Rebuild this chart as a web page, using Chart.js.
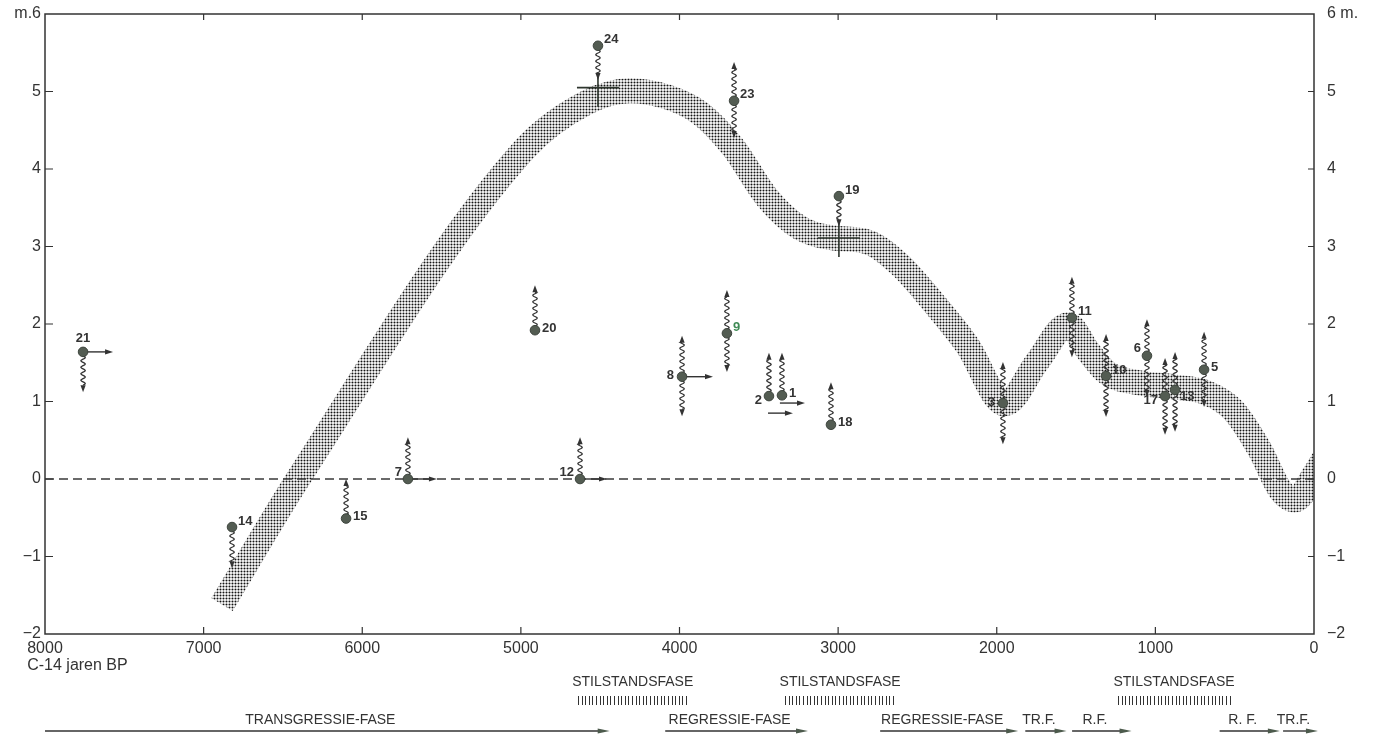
<!DOCTYPE html>
<html>
<head>
<meta charset="utf-8">
<title>Zeespiegel C-14</title>
<script src="https://cdn.jsdelivr.net/npm/chart.js@4.4.1/dist/chart.umd.min.js"></script>
<style>
  html, body { margin: 0; padding: 0; background: #fff; }
  canvas { display: block; }
</style>
</head>
<body>
<canvas id="sealevel-chart" width="1374" height="739"></canvas>
<script>
// --- data (ages in C-14 years BP, levels in metres) ---
const sampleIds   = ['21', '14', '15', '7', '12', '20', '24', '23', '19', '9', '8', '2', '1', '18', '3', '11', '10', '6', '17', '13', '5'];
const sampleAge   = [7760, 6821, 6102, 5712, 4627, 4911, 4514, 3656, 2995, 3701, 3984, 3436, 3354, 3045, 1961, 1526, 1311, 1053, 939, 876, 693];
const sampleLevel = [1.64, -0.62, -0.51, 0.0, 0.0, 1.92, 5.59, 4.88, 3.65, 1.88, 1.32, 1.07, 1.08, 0.70, 0.98, 2.08, 1.33, 1.59, 1.07, 1.15, 1.41];
const rangeTop    = [null, null, 0.0, 0.54, 0.54, 2.50, null, 5.38, null, 2.44, 1.85, 1.63, 1.63, 1.25, 1.51, 2.61, 1.87, 2.06, 1.56, 1.64, 1.90];
const rangeBottom = [1.12, -1.15, null, null, null, null, 5.15, 4.40, 3.26, 1.38, 0.81, null, null, null, 0.45, 1.57, 0.80, 1.06, 0.57, 0.61, 0.93];

const crossAge   = [4514, 2995];
const crossLevel = [5.05, 3.11];

const shiftFrom  = [7760, 5712, 4627, 3984, 3367, 3442];
const shiftTo    = [7571, 5529, 4457, 3789, 3209, 3285];
const shiftLevel = [1.64, 0.0, 0.0, 1.32, 0.98, 0.85];

const bandAge   = [6884, 6405, 4980, 4583, 4312, 4078, 3870, 3662, 3448, 3240, 3032, 2817, 2609, 2401, 2187, 1948, 1746, 1550, 1424, 1304, 1096, 888, 674, 510, 340, 213, 119, 0, -60];
const bandLevel = [-1.62, 0.0, 4.25, 4.86, 5.01, 4.93, 4.72, 4.28, 3.63, 3.24, 3.11, 3.06, 2.76, 2.28, 1.73, 0.97, 1.51, 1.99, 1.65, 1.37, 1.24, 1.19, 1.11, 0.89, 0.37, -0.14, -0.27, 0.05, 0.25];

const zeroAge   = [8000, 0];
const zeroLevel = [0, 0];

const phaseNames = ['TRANSGRESSIE-FASE', 'REGRESSIE-FASE', 'REGRESSIE-FASE', 'TR.F.', 'R.F.', 'R. F.', 'TR.F.'];
const phaseFrom  = [8000, 4090, 2735, 1820, 1525, 595, 195];
const phaseTo    = [4440, 3190, 1865, 1560, 1150, 215, -25];

const standName = 'STILSTANDSFASE';
const standFrom = [4640, 3335, 1235];
const standTo   = [3950, 2640, 530];

// --- styling ---
const FONT = "'Liberation Sans', Arial, sans-serif";
const INK = '#333';
const labelSpot = {
  '21': 'n', '14': 'ne', '15': 'e', '7': 'nw', '12': 'nw', '20': 'e', '24': 'ne', '23': 'ne',
  '19': 'ne', '9': 'ne', '8': 'w', '2': 'sw', '1': 'e', '18': 'e', '3': 'w', '11': 'ne',
  '10': 'ne', '6': 'nw', '17': 'sw', '13': 'se', '5': 'e'
};
const spotOffset = {
  e: [7, -2, 'left'], ne: [6, -6, 'left'], nw: [-6, -7, 'right'], w: [-8, -1, 'right'],
  sw: [-7, 4, 'right'], se: [5, 7, 'left'], n: [0, -13, 'center']
};

// stipple pattern for the sea-level band
const tile = document.createElement('canvas');
tile.width = 3; tile.height = 3;
const tctx = tile.getContext('2d');
tctx.fillStyle = '#141414';
tctx.beginPath(); tctx.arc(1.5, 1.5, 1.02, 0, Math.PI * 2); tctx.fill();
const stipple = tctx.createPattern(tile, 'repeat');

function arrowHead(ctx, x, y, ux, uy, len, half) {
  ctx.beginPath();
  ctx.moveTo(x, y);
  ctx.lineTo(x - ux * len - uy * half, y - uy * len + ux * half);
  ctx.lineTo(x - ux * len + uy * half, y - uy * len - ux * half);
  ctx.closePath();
  ctx.fill();
}

function wavy(ctx, x, y0, y1) {
  const dir = y1 < y0 ? -1 : 1;
  const head = 7;
  const body = Math.abs(y1 - y0) - head;
  if (body > 0) {
    ctx.beginPath();
    ctx.moveTo(x, y0);
    for (let s = 0; s <= body; s += 0.5) {
      ctx.lineTo(x + 2.2 * Math.sin(s / 6.5 * 2 * Math.PI), y0 + dir * s);
    }
    ctx.lineTo(x, y0 + dir * body);
    ctx.stroke();
  }
  arrowHead(ctx, x, y1, 0, dir, head, 2.6);
}

const markerPlugin = {
  id: 'markers',
  beforeDatasetDraw(chart, args) {
    if (args.index !== 2) return;
    const { ctx, scales: { x, y } } = chart;
    ctx.save();
    ctx.setLineDash([]);
    ctx.strokeStyle = '#333';
    ctx.fillStyle = '#333';
    ctx.lineWidth = 1.25;
    // crosses
    crossAge.forEach((a, i) => {
      const cx = x.getPixelForValue(a), cy = y.getPixelForValue(crossLevel[i]);
      ctx.save();
      ctx.strokeStyle = '#2e362e';
      ctx.lineWidth = 1.6;
      ctx.beginPath();
      ctx.moveTo(cx - 21, cy); ctx.lineTo(cx + 21, cy);
      ctx.moveTo(cx, cy - 15); ctx.lineTo(cx, cy + 19);
      ctx.stroke();
      ctx.restore();
    });
    // wavy uncertainty arrows
    sampleAge.forEach((a, i) => {
      const px = x.getPixelForValue(a), py = y.getPixelForValue(sampleLevel[i]);
      if (rangeTop[i] !== null) wavy(ctx, px, py - 4, y.getPixelForValue(rangeTop[i]));
      if (rangeBottom[i] !== null) wavy(ctx, px, py + 4, y.getPixelForValue(rangeBottom[i]));
    });
    // horizontal shift arrows
    shiftFrom.forEach((a, i) => {
      const x0 = x.getPixelForValue(a), x1 = x.getPixelForValue(shiftTo[i]);
      const py = y.getPixelForValue(shiftLevel[i]);
      ctx.beginPath();
      ctx.moveTo(x0, py); ctx.lineTo(x1 - 6, py);
      ctx.lineWidth = 1.4;
      ctx.stroke();
      arrowHead(ctx, x1, py, 1, 0, 8, 2.6);
    });
    ctx.restore();
  },
  afterDatasetsDraw(chart) {
    const { ctx, scales: { x, y } } = chart;
    ctx.save();
    ctx.font = `bold 13px ${FONT}`;
    ctx.textBaseline = 'middle';
    sampleIds.forEach((id, i) => {
      const [dx, dy, align] = spotOffset[labelSpot[id]];
      ctx.fillStyle = id === '9' ? '#3f8a55' : INK;
      ctx.textAlign = align;
      ctx.fillText(id, x.getPixelForValue(sampleAge[i]) + dx, y.getPixelForValue(sampleLevel[i]) + dy);
    });
    ctx.restore();
  }
};

const framePlugin = {
  id: 'frame',
  afterDraw(chart) {
    const { ctx, chartArea: ca, scales: { x, y } } = chart;
    ctx.save();
    ctx.setLineDash([]);
    ctx.strokeStyle = INK;
    ctx.lineWidth = 1.5;
    ctx.strokeRect(ca.left, ca.top, ca.right - ca.left, ca.bottom - ca.top);
    ctx.lineWidth = 1.2;
    ctx.beginPath();
    y.ticks.forEach(t => {
      if (t.value === y.min || t.value === y.max) return;
      const py = y.getPixelForValue(t.value);
      ctx.moveTo(ca.left, py); ctx.lineTo(ca.left + 8, py);
      ctx.moveTo(ca.right, py); ctx.lineTo(ca.right - 6, py);
    });
    x.ticks.forEach(t => {
      if (t.value === x.min || t.value === x.max) return;
      const px = x.getPixelForValue(t.value);
      ctx.moveTo(px, ca.bottom); ctx.lineTo(px, ca.bottom - 7);
      ctx.moveTo(px, ca.top); ctx.lineTo(px, ca.top + 6);
    });
    ctx.stroke();

    // axis caption under 8000
    ctx.fillStyle = INK;
    ctx.font = `16px ${FONT}`;
    ctx.textBaseline = 'middle';
    ctx.textAlign = 'left';
    const x8000 = x.getPixelForValue(8000) - ctx.measureText('8000').width / 2;
    ctx.fillText('C-14 jaren BP', x8000, 666);

    // stillstand phases
    ctx.font = `14px ${FONT}`;
    ctx.textAlign = 'center';
    ctx.lineWidth = 1;
    standFrom.forEach((a, i) => {
      const x0 = x.getPixelForValue(a), x1 = x.getPixelForValue(standTo[i]);
      ctx.fillText(standName, (x0 + x1) / 2, 682);
      ctx.beginPath();
      for (let h = x0; h <= x1; h += 3.6) {
        ctx.moveTo(Math.round(h) + 0.5, 696); ctx.lineTo(Math.round(h) + 0.5, 705);
      }
      ctx.stroke();
    });

    // transgression / regression arrows
    phaseNames.forEach((name, i) => {
      const x0 = x.getPixelForValue(phaseFrom[i]), x1 = x.getPixelForValue(phaseTo[i]);
      ctx.fillStyle = INK;
      ctx.fillText(name, (x0 + x1 - 14) / 2, 720);
      ctx.beginPath();
      ctx.lineWidth = 1.4;
      ctx.moveTo(x0, 731); ctx.lineTo(x1 - 8, 731);
      ctx.stroke();
      ctx.fillStyle = '#4c5a4c';
      arrowHead(ctx, x1, 731, 1, 0, 12, 2.4);
    });
    ctx.restore();
  }
};

const minus = v => (v < 0 ? '\u2212' + Math.abs(v) : String(v));

const ctx = document.getElementById('sealevel-chart');
new Chart(ctx, {
  type: 'scatter',
  data: {
    datasets: [
      {
        type: 'line',
        label: 'zeespiegel',
        data: bandAge.map((a, i) => ({ x: a, y: bandLevel[i] })),
        borderColor: stipple,
        borderWidth: 25,
        pointRadius: 0,
        cubicInterpolationMode: 'monotone',
        clip: 0,
        order: 3
      },
      {
        type: 'line',
        label: 'NAP',
        data: zeroAge.map((a, i) => ({ x: a, y: zeroLevel[i] })),
        borderColor: '#3a3a3a',
        borderWidth: 1.3,
        borderDash: [9, 5],
        pointRadius: 0,
        order: 2
      },
      {
        label: 'monsters',
        data: sampleAge.map((a, i) => ({ x: a, y: sampleLevel[i] })),
        backgroundColor: '#535c52',
        borderColor: '#3c433c',
        borderWidth: 1,
        pointRadius: 4.8,
        order: 0
      }
    ]
  },
  options: {
    responsive: false,
    animation: false,
    layout: { padding: { top: 14, left: 0, right: 0, bottom: 0 } },
    plugins: {
      legend: { display: false },
      tooltip: { enabled: false }
    },
    scales: {
      x: {
        type: 'linear',
        reverse: true,
        min: 0,
        max: 8000,
        grid: { display: false, drawTicks: false },
        border: { display: false },
        ticks: {
          stepSize: 1000,
          autoSkip: false,
          maxRotation: 0,
          padding: 5,
          color: INK,
          font: { family: FONT, size: 16 },
          callback: v => String(v)
        },
        afterFit: s => { s.height = 105; }
      },
      y: {
        position: 'left',
        min: -2,
        max: 6,
        grid: { display: false, drawTicks: false },
        border: { display: false },
        ticks: {
          stepSize: 1,
          padding: 4,
          color: INK,
          font: { family: FONT, size: 16 },
          callback: v => (v === 6 ? 'm.6' : minus(v))
        },
        afterFit: s => { s.width = 45; }
      },
      y2: {
        position: 'right',
        min: -2,
        max: 6,
        grid: { display: true, drawOnChartArea: false, drawTicks: true, tickLength: 9, color: 'rgba(0,0,0,0)' },
        border: { display: false },
        ticks: {
          stepSize: 1,
          padding: 4,
          color: INK,
          font: { family: FONT, size: 16 },
          callback: v => (v === 6 ? '6 m.' : minus(v))
        },
        afterFit: s => { s.width = 60; }
      }
    }
  },
  plugins: [markerPlugin, framePlugin]
});
</script>
</body>
</html>
